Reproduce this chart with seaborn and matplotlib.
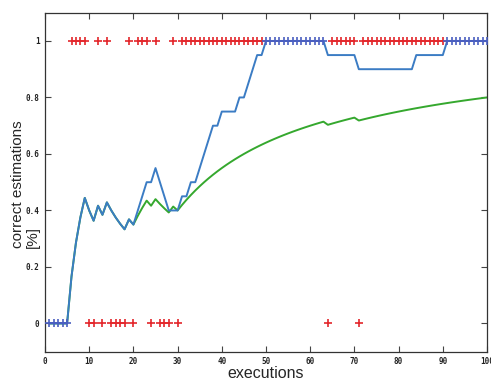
import numpy as np
import pandas as pd
import matplotlib
matplotlib.use("Agg")
import matplotlib.pyplot as plt
import seaborn as sns

# Execution numbers and whether each estimation was correct (1) or wrong (0)
executions = list(range(1, 101))
wrong_runs = [1, 2, 3, 4, 5, 10, 11, 13, 15, 16, 17, 18, 20, 24, 26, 27, 28, 30, 64, 71]
outcome = [0 if e in wrong_runs else 1 for e in executions]

x_ticks = [0, 10, 20, 30, 40, 50, 60, 70, 80, 90, 100]
y_ticks = [0, 0.2, 0.4, 0.6, 0.8, 1]
y_tick_labels = ["0", "0.2", "0.4", "0.6", "0.8", "1"]

window = 20

df = pd.DataFrame({"execution": executions, "outcome": outcome})
# accuracy over the last 20 executions and over all executions so far
df["windowed"] = df["outcome"].rolling(window, min_periods=1).mean()
df["cumulative"] = df["outcome"].expanding().mean()
# executions where the whole window agrees with the outcome
df["steady"] = np.isclose(df["windowed"], df["outcome"])

sns.set_style("white")
plt.rcParams["font.family"] = ["Liberation Sans", "DejaVu Sans"]

W, H = 491, 379
fig = plt.figure(figsize=(W / 100, H / 100), dpi=100)
ax = fig.add_axes([45 / W, 1 - 351.7 / H, 442 / W, 339 / H])

blue = "#3b7cc4"
green = "#35a82e"
red = "#e3262b"

sns.lineplot(data=df, x="execution", y="cumulative", color=green, lw=1.4, ax=ax)
sns.lineplot(data=df, x="execution", y="windowed", color=blue, lw=1.4, ax=ax)

red_pts = df[~df["steady"]]
blue_pts = df[df["steady"]]
sns.scatterplot(data=red_pts, x="execution", y="outcome", marker="+", color=red,
                s=26, linewidth=1.2, ax=ax, zorder=3)
sns.scatterplot(data=blue_pts, x="execution", y="outcome", marker="+", color="#4a5fc0",
                s=26, linewidth=1.2, ax=ax, zorder=3)

ax.set_xlim(0, 100)
ax.set_ylim(-0.1, 1.1)
ax.set_xticks(x_ticks)
ax.set_xticklabels([str(t) for t in x_ticks])
ax.set_yticks(y_ticks)
ax.set_yticklabels(y_tick_labels)

for lab in ax.get_xticklabels() + ax.get_yticklabels():
    lab.set_fontfamily("DejaVu Sans Mono")
    lab.set_fontweight("bold")
    lab.set_fontsize(5.5)
    lab.set_color("#222222")

ax.tick_params(direction="in", length=4, width=0.8, top=True, right=True,
               bottom=True, left=True, color="#444444", pad=4)
for sp in ax.spines.values():
    sp.set_visible(True)
    sp.set_color("#333333")
    sp.set_linewidth(0.9)

ax.set_xlabel("executions", fontsize=11.5, labelpad=-0.5)
ax.set_ylabel("")
# rotated y label in two lines that start from the same end
fig.text(18 / W, 1 - 248 / H, "correct estimations", rotation=90,
         ha="center", va="bottom", fontsize=11)
fig.text(33 / W, 1 - 248 / H, "[%]", rotation=90,
         ha="center", va="bottom", fontsize=11)

fig.savefig("out.png", dpi=100)
